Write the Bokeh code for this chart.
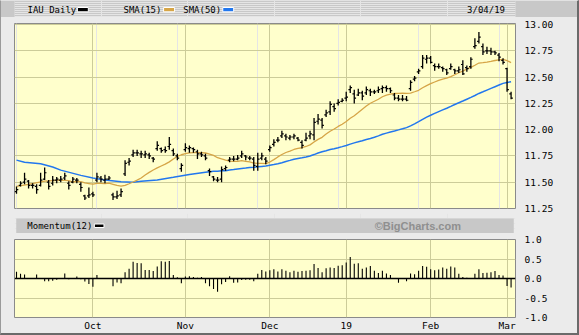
import numpy as np
from bokeh.plotting import figure
from bokeh.models import Range1d, FixedTicker, Grid, Span, NumeralTickFormatter, InlineStyleSheet
from bokeh.layouts import column
from bokeh.embed import file_html
from bokeh.resources import INLINE
from bokeh.core.properties import value

# ---------------- data ----------------
highs = [11.46, 11.51, 11.59, 11.52, 11.49, 11.48, 11.59, 11.64, 11.52, 11.56,
         11.55, 11.56, 11.59, 11.51, 11.55, 11.54, 11.50, 11.38, 11.45, 11.41,
         11.59, 11.56, 11.57, 11.56, 11.40, 11.42, 11.44, 11.71, 11.73, 11.81,
         11.81, 11.80, 11.80, 11.78, 11.74, 11.89, 11.83, 11.84, 11.93, 11.82,
         11.77, 11.68, 11.87, 11.85, 11.83, 11.81, 11.79, 11.77, 11.63, 11.56,
         11.55, 11.65, 11.66, 11.74, 11.75, 11.76, 11.80, 11.76, 11.75, 11.74,
         11.78, 11.78, 11.74, 11.85, 11.91, 11.93, 11.99, 11.96, 11.95, 11.96,
         11.93, 11.90, 11.97, 11.99, 12.11, 12.15, 12.11, 12.19, 12.27, 12.25,
         12.29, 12.30, 12.36, 12.42, 12.38, 12.39, 12.37, 12.41, 12.39, 12.38,
         12.41, 12.42, 12.42, 12.40, 12.35, 12.33, 12.33, 12.32, 12.47, 12.51,
         12.58, 12.71, 12.71, 12.70, 12.63, 12.63, 12.60, 12.58, 12.63, 12.58,
         12.60, 12.66, 12.61, 12.69, 12.87, 12.93, 12.82, 12.79, 12.78, 12.75,
         12.73, 12.68, 12.59, 12.36]
lows = [11.39, 11.46, 11.48, 11.44, 11.44, 11.39, 11.46, 11.52, 11.43, 11.47,
        11.49, 11.50, 11.52, 11.43, 11.49, 11.49, 11.41, 11.33, 11.35, 11.36,
        11.50, 11.50, 11.49, 11.52, 11.33, 11.34, 11.36, 11.56, 11.66, 11.74,
        11.75, 11.73, 11.73, 11.72, 11.69, 11.80, 11.78, 11.78, 11.81, 11.75,
        11.71, 11.60, 11.79, 11.78, 11.78, 11.72, 11.74, 11.71, 11.56, 11.51,
        11.50, 11.50, 11.61, 11.69, 11.70, 11.71, 11.73, 11.71, 11.71, 11.61,
        11.61, 11.71, 11.67, 11.79, 11.84, 11.88, 11.92, 11.90, 11.90, 11.91,
        11.89, 11.82, 11.89, 11.91, 11.90, 12.05, 12.01, 12.12, 12.14, 12.17,
        12.23, 12.26, 12.27, 12.35, 12.25, 12.32, 12.28, 12.33, 12.32, 12.34,
        12.35, 12.35, 12.36, 12.35, 12.28, 12.27, 12.27, 12.27, 12.37, 12.46,
        12.53, 12.58, 12.63, 12.63, 12.56, 12.58, 12.55, 12.52, 12.57, 12.53,
        12.54, 12.52, 12.55, 12.58, 12.77, 12.82, 12.71, 12.72, 12.71, 12.71,
        12.65, 12.62, 12.36, 12.29]
opens = [11.41, 11.47, 11.50, 11.51, 11.47, 11.46, 11.47, 11.53, 11.50, 11.49,
         11.52, 11.52, 11.54, 11.49, 11.50, 11.52, 11.48, 11.37, 11.37, 11.39,
         11.52, 11.54, 11.52, 11.53, 11.38, 11.36, 11.38, 11.58, 11.69, 11.76,
         11.78, 11.77, 11.76, 11.76, 11.73, 11.82, 11.82, 11.81, 11.84, 11.80,
         11.75, 11.63, 11.81, 11.82, 11.82, 11.79, 11.77, 11.75, 11.61, 11.55,
         11.52, 11.53, 11.63, 11.71, 11.72, 11.72, 11.75, 11.75, 11.73, 11.72,
         11.65, 11.73, 11.72, 11.81, 11.86, 11.90, 11.94, 11.94, 11.92, 11.93,
         11.92, 11.88, 11.90, 11.94, 11.95, 12.08, 12.09, 12.14, 12.17, 12.22,
         12.25, 12.27, 12.30, 12.38, 12.34, 12.33, 12.35, 12.35, 12.37, 12.36,
         12.37, 12.39, 12.40, 12.39, 12.33, 12.30, 12.29, 12.29, 12.39, 12.48,
         12.55, 12.60, 12.67, 12.68, 12.61, 12.60, 12.59, 12.57, 12.58, 12.57,
         12.56, 12.62, 12.59, 12.60, 12.79, 12.84, 12.79, 12.75, 12.75, 12.74,
         12.71, 12.66, 12.58, 12.34]
closes = [11.43, 11.49, 11.53, 11.47, 11.47, 11.43, 11.52, 11.59, 11.46, 11.52,
          11.53, 11.53, 11.56, 11.47, 11.53, 11.52, 11.45, 11.35, 11.38, 11.38,
          11.55, 11.53, 11.53, 11.54, 11.36, 11.37, 11.41, 11.68, 11.70, 11.78,
          11.78, 11.77, 11.77, 11.75, 11.72, 11.85, 11.80, 11.80, 11.86, 11.77,
          11.73, 11.66, 11.83, 11.83, 11.81, 11.77, 11.76, 11.73, 11.60, 11.53,
          11.52, 11.62, 11.64, 11.72, 11.72, 11.73, 11.77, 11.74, 11.73, 11.66,
          11.72, 11.75, 11.70, 11.83, 11.88, 11.90, 11.96, 11.93, 11.93, 11.94,
          11.90, 11.85, 11.92, 11.96, 12.07, 12.10, 12.04, 12.16, 12.24, 12.20,
          12.26, 12.28, 12.31, 12.40, 12.30, 12.35, 12.32, 12.38, 12.36, 12.36,
          12.38, 12.40, 12.39, 12.37, 12.30, 12.29, 12.29, 12.28, 12.45, 12.49,
          12.56, 12.68, 12.68, 12.64, 12.60, 12.60, 12.58, 12.54, 12.60, 12.56,
          12.57, 12.53, 12.58, 12.67, 12.80, 12.88, 12.74, 12.75, 12.74, 12.73,
          12.69, 12.64, 12.38, 12.30]

# moving-average values visible before enough bars exist
sma15_head_idx = [0, 3, 7, 11, 13]
sma15_head_val = [11.46, 11.48, 11.51, 11.52, 11.515]
sma50_head_idx = [0, 2, 6, 9, 11, 16, 19, 22, 26, 29, 31, 35, 39, 43, 47]
sma50_head_val = [11.71, 11.69, 11.675, 11.645, 11.615, 11.565, 11.54, 11.52,
                  11.505, 11.50, 11.51, 11.522, 11.547, 11.573, 11.595]
# momentum bars visible before 12 bars exist
mom_head = [0.175, 0.12, 0.105, 0.0, 0.0, 0.105, 0.0, -0.07, -0.07, -0.06, -0.03, 0.0]

month_idx = [19, 42, 63, 82, 103, 122]
month_labels = ["Oct", "Nov", "Dec", "19", "Feb", "Mar"]
price_ticks = [11.25, 11.50, 11.75, 12.00, 12.25, 12.50, 12.75, 13.00]
mom_ticks = [-1.0, -0.5, 0.0, 0.5, 1.0]

# ---------------- derived indicators ----------------
c = np.array(closes)
n = len(c)
idx = np.arange(n)
sma15 = np.convolve(c, np.ones(15) / 15, mode="valid")
sma50 = np.convolve(c, np.ones(50) / 50, mode="valid")
x15 = list(sma15_head_idx) + list(range(14, n))
y15 = list(sma15_head_val) + list(sma15)
x50 = list(sma50_head_idx) + list(range(49, n))
y50 = list(sma50_head_val) + list(sma50)
mom = np.concatenate([np.array(mom_head), c[12:] - c[:-12]])

# ---------------- styles ----------------
BG = "#ebebeb"
BAR = "#c8c8c8"
PLOT_BG = "#ffffcc"
GRID = "#cccc99"
ORANGE = "#d6a547"
BLUE = "#2277ee"
MONO = "DejaVu Sans Mono"
FS = "9.5px"
HFS = "9px"
W = 579


def header_fig(h):
    f = figure(width=W, height=h, x_range=Range1d(0, W), y_range=Range1d(h, 0),
               toolbar_location=None, output_backend="svg", min_border=0,
               x_axis_location=None, y_axis_location=None)
    f.background_fill_color = BG
    f.border_fill_color = BG
    f.outline_line_color = None
    return f


# top header
h1 = header_fig(17)
h1.background_fill_color = BAR
h1.border_fill_color = BAR
h1.text(x=[15, 126, 195, 523], y=[9.5, 9.5, 9.5, 9.5],
        text=["IAU Daily", "SMA(15)", "SMA(50)", "3/04/19"],
        text_font=value(MONO), text_font_size=value(HFS),
        text_baseline="middle", text_align="left", text_color="black")
h1.quad(left=[72.7, 172.3, 240.7], right=[85.3, 185, 253.3],
        top=[7.0, 7.0, 7.0], bottom=[11.3, 11.3, 11.3],
        fill_color=["black", ORANGE, BLUE], line_color="white", line_width=1)

# main price panel
p = figure(width=W, height=196, x_range=Range1d(-0.5, 124.1), y_range=Range1d(11.25, 13.01),
           toolbar_location=None, output_backend="svg",
           x_axis_location=None, y_axis_location="right",
           min_border_left=14, min_border_right=64, min_border_top=6, min_border_bottom=5)
p.background_fill_color = PLOT_BG
p.border_fill_color = BG
p.outline_line_color = "#8a8a8a"
p.yaxis.ticker = FixedTicker(ticks=price_ticks)
p.yaxis.formatter = NumeralTickFormatter(format="0.00")
p.yaxis.major_tick_out = 0
p.yaxis.major_tick_in = 0
p.yaxis.minor_tick_out = 0
p.yaxis.minor_tick_in = 0
p.yaxis.axis_line_color = None
p.yaxis.major_label_standoff = 9
p.yaxis.major_label_text_font = MONO
p.yaxis.major_label_text_font_size = FS
p.yaxis.major_label_text_color = "black"
p.ygrid.grid_line_color = GRID
p.add_layout(Grid(dimension=0, ticker=FixedTicker(ticks=month_idx), grid_line_color=GRID))

p.line(x50, y50, line_color=BLUE, line_width=1.5)
p.line(x15, y15, line_color=ORANGE, line_width=1.3)
p.segment(x0=idx, y0=lows, x1=idx, y1=highs, line_color="black", line_width=1.3)
p.segment(x0=idx - 0.45, y0=opens, x1=idx, y1=opens, line_color="black", line_width=1.2)
p.segment(x0=idx, y0=closes, x1=idx + 0.45, y1=closes, line_color="black", line_width=1.2)

# momentum header
h3 = header_fig(20)
h3.quad(left=[2], right=[577], top=[5], bottom=[20], fill_color=BAR, line_color=None)
h3.text(x=[14.8], y=[12.5], text=["Momentum(12)"], text_font=value(MONO),
        text_font_size=value(HFS), text_baseline="middle", text_align="left", text_color="black")
h3.quad(left=[92.3], right=[103.4], top=[10.5], bottom=[14.0], fill_color="black",
        line_color="white", line_width=1)
h3.text(x=[516], y=[12.5], text=["\u00a9BigCharts.com"], text_font=value("Liberation Sans"),
        text_font_style="bold", text_font_size=value("11px"), text_baseline="middle",
        text_align="right", text_color="#8f8f8f")

# momentum panel
m = figure(width=W, height=102, x_range=p.x_range, y_range=Range1d(-1.0, 1.0),
           toolbar_location=None, output_backend="svg",
           x_axis_location="below", y_axis_location="right",
           min_border_left=14, min_border_right=64, min_border_top=6, min_border_bottom=18)
m.background_fill_color = PLOT_BG
m.border_fill_color = BG
m.outline_line_color = "#8a8a8a"
m.yaxis.ticker = FixedTicker(ticks=mom_ticks)
m.yaxis.formatter = NumeralTickFormatter(format="0.0")
m.xaxis.ticker = FixedTicker(ticks=month_idx)
m.xaxis.major_label_overrides = {k: v for k, v in zip(month_idx, month_labels)}
for ax in (m.xaxis[0], m.yaxis[0]):
    ax.major_tick_out = 0
    ax.major_tick_in = 0
    ax.minor_tick_out = 0
    ax.minor_tick_in = 0
    ax.axis_line_color = None
    ax.major_label_text_font = MONO
    ax.major_label_text_font_size = FS
    ax.major_label_text_color = "black"
m.yaxis.major_label_standoff = 9
m.xaxis.major_label_standoff = 2
m.xgrid.grid_line_color = GRID
m.ygrid.grid_line_color = GRID
m.segment(x0=idx, y0=np.zeros(n), x1=idx, y1=mom, line_color="black", line_width=1.1)
m.add_layout(Span(location=0, dimension="width", line_color="black", line_width=1.6))

frame_css = InlineStyleSheet(css="""
:host { position: relative; }
:host::after {
  content: "";
  position: absolute;
  left: 0; top: 0; right: 0; bottom: 0;
  box-sizing: border-box;
  border-style: solid;
  border-width: 1px 2px 2px 1px;
  border-color: #e2e2e2 #6a6a6a #6a6a6a #9a9a9a;
  pointer-events: none;
  z-index: 100;
}
""")

layout = column(h1, p, h3, m, spacing=0)
layout.styles = {"background-color": BG}
layout.stylesheets = [frame_css]
open("out.html", "w").write(file_html(layout, INLINE))
